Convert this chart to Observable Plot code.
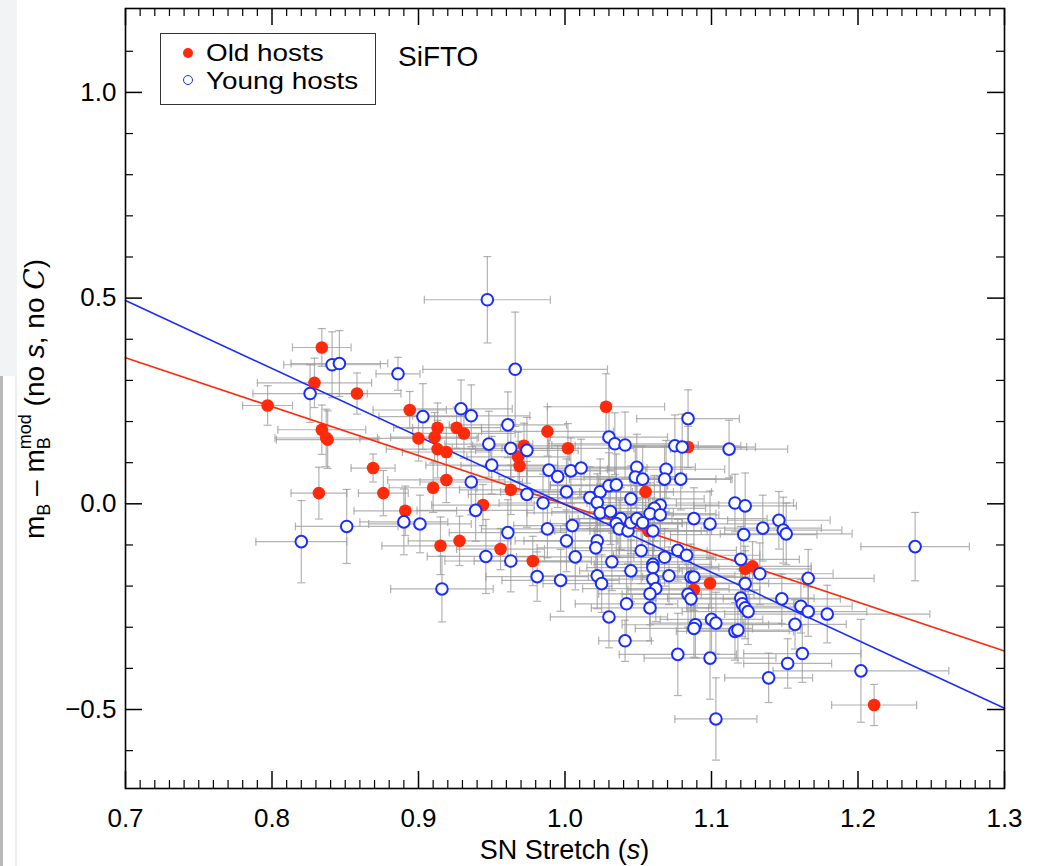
<!DOCTYPE html>
<html>
<head>
<meta charset="utf-8">
<script src="https://cdn.jsdelivr.net/npm/d3@7"></script>
<script src="https://cdn.jsdelivr.net/npm/@observablehq/plot@0.6"></script>
<style>
  html, body { margin: 0; padding: 0; background: #fff; }
  #wrap { position: relative; width: 1041px; height: 866px; font-family: "Liberation Sans", Arial, Helvetica, sans-serif; overflow: hidden; }
  #strip1 { position: absolute; left: 0; top: 0; width: 17px; height: 376px; background: #f2f3f5; }
  #strip2 { position: absolute; left: 0; top: 376px; width: 3px; height: 490px; background: #b8b8b8; }
  #strip3 { position: absolute; left: 15px; top: 376px; width: 2px; height: 490px; background: #eceef0; }
  .legend { position: absolute; left: 160px; top: 33px; width: 216px; height: 72px; border: 1.5px solid #333; box-sizing: border-box; background: #fff; }
  .leg-text { position: absolute; left: 45px; top: 5px; font-size: 24px; color: #000; line-height: 28px; white-space: nowrap; transform: scaleX(1.16); transform-origin: 0 0; }
  .sym { position: absolute; width: 10px; height: 10px; border-radius: 50%; box-sizing: border-box; }
  .title { position: absolute; left: 398px; top: 43px; font-size: 28px; line-height: 1; color: #000; }
</style>
</head>
<body>
<div id="wrap">
  <div id="strip1"></div><div id="strip2"></div><div id="strip3"></div>
  <div id="chart"></div>
  <div class="legend">
    <div class="sym" style="left:22px;top:14px;background:#ff2a0a;"></div>
    <div class="sym" style="left:22px;top:41px;border:1.6px solid #1a2dff;background:#fff;"></div>
    <div class="leg-text">Old hosts<br>Young hosts</div>
  </div>
  <div class="title">SiFTO</div>
</div>
<script>
// ---------- data ----------
const oldS = [0.834,0.829,0.858,0.797,0.894,0.834,0.837,0.838,0.913,0.926,
              0.931,0.900,0.911,0.913,0.919,0.869,0.919,0.910,0.832,0.876,
              0.944,0.891,0.915,0.928,0.956,1.028,0.988,0.972,0.968,0.969,
              1.002,1.084,0.963,1.055,1.057,0.978,1.088,1.099,1.123,1.128,1.211];
const oldM = [0.380,0.294,0.268,0.239,0.228,0.180,0.160,0.156,0.185,0.185,
              0.171,0.159,0.162,0.133,0.126,0.087,0.058,0.039,0.026,0.026,
              -0.003,-0.017,-0.102,-0.090,-0.110,0.236,0.176,0.141,0.114,0.092,
              0.135,0.138,0.034,0.029,-0.066,-0.139,-0.209,-0.193,-0.158,-0.152,-0.489];
const oldSErr = [0.020,0.039,0.030,0.017,0.025,0.030,0.035,0.035,0.030,0.030,
                 0.035,0.040,0.030,0.035,0.030,0.015,0.040,0.030,0.019,0.017,
                 0.035,0.035,0.040,0.035,0.030,0.040,0.045,0.035,0.035,0.040,
                 0.045,0.040,0.035,0.045,0.040,0.040,0.045,0.040,0.045,0.040,0.029];
const oldMErr = [0.046,0.060,0.050,0.048,0.045,0.060,0.070,0.070,0.060,0.050,
                 0.060,0.055,0.060,0.070,0.060,0.034,0.055,0.060,0.063,0.055,
                 0.050,0.060,0.070,0.060,0.050,0.080,0.060,0.055,0.060,0.060,
                 0.060,0.050,0.060,0.060,0.060,0.060,0.050,0.060,0.055,0.060,0.050];

const youngS = [0.947,0.841,0.846,0.886,0.826,0.903,0.929,0.936,0.948,0.950,
                0.936,0.939,0.890,0.901,0.851,0.820,0.946,0.916,0.966,0.961,
                1.084,1.030,1.034,1.041,0.963,0.974,1.075,1.080,1.112,0.989,
                0.995,1.004,1.011,1.049,1.048,1.053,1.069,1.068,1.079,0.974,
                0.985,1.001,1.017,1.024,1.022,1.030,1.035,1.045,1.065,1.061,
                1.058,1.065,1.024,1.031,1.038,1.035,1.037,1.043,1.045,1.049,
                1.053,1.060,1.088,1.099,1.116,1.123,1.122,1.005,0.988,0.961,
                1.001,1.022,1.021,1.052,1.077,1.083,1.068,1.120,0.963,1.007,
                1.032,1.060,1.045,1.060,1.060,1.062,1.058,1.058,1.071,0.981,
                0.997,1.022,1.025,1.042,1.030,1.041,1.077,1.099,1.103,1.086,
                1.088,1.084,1.086,1.089,1.088,1.100,1.103,1.123,1.120,1.121,
                1.123,1.125,1.116,1.118,1.133,1.135,1.146,1.149,1.151,1.239,
                1.166,1.148,1.161,1.166,1.179,1.157,1.162,1.152,1.139,1.202];
const youngM = [0.496,0.338,0.341,0.316,0.268,0.212,0.231,0.214,0.145,0.094,
                0.053,-0.016,-0.044,-0.049,-0.055,-0.092,-0.128,-0.207,0.327,0.192,
                0.207,0.162,0.146,0.143,0.135,0.130,0.141,0.138,0.133,0.082,
                0.066,0.080,0.087,0.089,0.065,0.060,0.084,0.060,0.060,0.023,
                0.002,0.029,0.015,0.029,0.003,0.044,0.046,0.012,-0.003,-0.011,
                -0.024,-0.027,-0.022,-0.019,-0.036,-0.048,-0.061,-0.066,-0.046,-0.036,
                -0.046,-0.066,-0.036,-0.049,0.002,-0.005,-0.075,-0.053,-0.061,-0.070,
                -0.090,-0.090,-0.107,-0.114,-0.113,-0.125,-0.130,-0.135,-0.139,-0.129,
                -0.141,-0.147,-0.163,-0.155,-0.183,-0.206,-0.219,-0.253,-0.175,-0.177,
                -0.186,-0.175,-0.194,-0.243,-0.275,-0.333,-0.366,-0.375,-0.523,-0.178,
                -0.178,-0.220,-0.231,-0.294,-0.303,-0.281,-0.290,-0.194,-0.229,-0.243,
                -0.253,-0.262,-0.310,-0.307,-0.170,-0.059,-0.040,-0.064,-0.073,-0.104,
                -0.181,-0.231,-0.249,-0.262,-0.268,-0.293,-0.364,-0.388,-0.423,-0.406];
const youngSErr = [0.043,0.033,0.033,0.015,0.039,0.030,0.035,0.040,0.030,0.045,
                   0.035,0.040,0.030,0.035,0.035,0.031,0.040,0.035,0.063,0.040,
                   0.035,0.040,0.045,0.050,0.040,0.035,0.045,0.050,0.040,0.035,
                   0.040,0.030,0.045,0.040,0.035,0.050,0.040,0.045,0.035,0.040,
                   0.030,0.045,0.040,0.050,0.035,0.040,0.045,0.050,0.040,0.035,
                   0.045,0.040,0.050,0.040,0.035,0.045,0.040,0.050,0.035,0.040,
                   0.045,0.040,0.050,0.045,0.040,0.035,0.050,0.040,0.045,0.040,
                   0.035,0.050,0.040,0.045,0.040,0.050,0.035,0.040,0.045,0.040,
                   0.050,0.040,0.035,0.045,0.040,0.050,0.035,0.040,0.045,0.035,
                   0.040,0.045,0.040,0.035,0.040,0.018,0.040,0.045,0.028,0.040,
                   0.035,0.045,0.040,0.050,0.040,0.035,0.045,0.040,0.050,0.035,
                   0.040,0.045,0.040,0.035,0.050,0.040,0.035,0.040,0.045,0.037,
                   0.045,0.040,0.035,0.040,0.070,0.035,0.040,0.030,0.030,0.060];
const youngMErr = [0.105,0.080,0.080,0.040,0.070,0.080,0.070,0.075,0.080,0.070,
                   0.080,0.075,0.080,0.070,0.090,0.100,0.090,0.080,0.139,0.080,
                   0.070,0.080,0.075,0.080,0.070,0.080,0.075,0.080,0.070,0.080,
                   0.075,0.080,0.070,0.080,0.075,0.080,0.070,0.080,0.075,0.080,
                   0.070,0.080,0.075,0.080,0.070,0.080,0.075,0.080,0.070,0.080,
                   0.075,0.080,0.070,0.080,0.075,0.080,0.070,0.080,0.075,0.080,
                   0.070,0.080,0.075,0.080,0.070,0.080,0.075,0.080,0.070,0.080,
                   0.075,0.080,0.070,0.080,0.075,0.080,0.070,0.080,0.075,0.080,
                   0.070,0.080,0.075,0.080,0.070,0.080,0.075,0.080,0.070,0.060,
                   0.075,0.080,0.070,0.080,0.075,0.050,0.100,0.100,0.100,0.080,
                   0.070,0.080,0.075,0.080,0.070,0.080,0.075,0.080,0.070,0.080,
                   0.075,0.080,0.070,0.080,0.075,0.080,0.070,0.080,0.075,0.083,
                   0.070,0.060,0.065,0.060,0.070,0.060,0.070,0.060,0.060,0.125];

// fitted lines: endpoints read at the plot edges
const fitS = [0.7, 1.3];
const fitYoungM = [0.494, -0.497];
const fitOldM = [0.355, -0.358];

// axes
const xMajor = [0.7, 0.8, 0.9, 1.0, 1.1, 1.2, 1.3];
const xMinor = [0.71,0.72,0.73,0.74,0.75,0.76,0.77,0.78,0.79,0.81,0.82,0.83,0.84,0.85,0.86,0.87,0.88,0.89,
                0.91,0.92,0.93,0.94,0.95,0.96,0.97,0.98,0.99,1.01,1.02,1.03,1.04,1.05,1.06,1.07,1.08,1.09,
                1.11,1.12,1.13,1.14,1.15,1.16,1.17,1.18,1.19,1.21,1.22,1.23,1.24,1.25,1.26,1.27,1.28,1.29];
const yMajor = [-0.5, 0.0, 0.5, 1.0];
const yMinor = [-0.6,-0.4,-0.3,-0.2,-0.1,0.1,0.2,0.3,0.4,0.6,0.7,0.8,0.9,1.1];
const xDomain = [0.7, 1.3];
const yDomain = [-0.692, 1.204];

// ---------- build ----------
const RED = "#ff2a0a", BLUE = "#1a2dff", ERR = "#9a9a9a";
const W = 1041, H = 866, mL = 125, mR = 37, mT = 8, mB = 78;
const iw = W - mL - mR, ih = H - mT - mB;
const majLen = 17, minLen = 8;

const oldData = oldS.map((s, i) => ({s, m: oldM[i], se: oldSErr[i], me: oldMErr[i]}));
const youngData = youngS.map((s, i) => ({s, m: youngM[i], se: youngSErr[i], me: youngMErr[i]}));
const allData = oldData.concat(youngData);
const fitYoung = fitS.map((s, i) => ({s, m: fitYoungM[i]}));
const fitOld = fitS.map((s, i) => ({s, m: fitOldM[i]}));

const vcap = {draw(ctx, size) { const r = Math.sqrt(size / Math.PI); ctx.moveTo(0, -r); ctx.lineTo(0, r); }};
const hcap = {draw(ctx, size) { const r = Math.sqrt(size / Math.PI); ctx.moveTo(-r, 0); ctx.lineTo(r, 0); }};
const errStyle = {stroke: ERR, strokeOpacity: 0.75, strokeWidth: 1.2};

const chart = Plot.plot({
  width: W, height: H,
  marginLeft: mL, marginRight: mR, marginTop: mT, marginBottom: mB,
  style: {fontFamily: '"Liberation Sans", Arial, Helvetica, sans-serif', fontSize: "26px", color: "#000", background: "transparent"},
  x: {domain: xDomain},
  y: {domain: yDomain},
  marks: [
    // error bars
    Plot.ruleY(allData, {y: "m", x1: d => d.s - d.se, x2: d => d.s + d.se, ...errStyle}),
    Plot.ruleX(allData, {x: "s", y1: d => d.m - d.me, y2: d => d.m + d.me, ...errStyle}),
    Plot.dot(allData, {x: d => d.s - d.se, y: "m", symbol: vcap, r: 4, ...errStyle}),
    Plot.dot(allData, {x: d => d.s + d.se, y: "m", symbol: vcap, r: 4, ...errStyle}),
    Plot.dot(allData, {x: "s", y: d => d.m - d.me, symbol: hcap, r: 4, ...errStyle}),
    Plot.dot(allData, {x: "s", y: d => d.m + d.me, symbol: hcap, r: 4, ...errStyle}),
    // fits
    Plot.line(fitOld, {x: "s", y: "m", stroke: RED, strokeWidth: 1.6}),
    Plot.line(fitYoung, {x: "s", y: "m", stroke: BLUE, strokeWidth: 1.6}),
    // points
    Plot.dot(oldData, {x: "s", y: "m", r: 6.3, fill: RED, stroke: "none"}),
    Plot.dot(youngData, {x: "s", y: "m", r: 5.8, fill: "#fff", stroke: BLUE, strokeWidth: 2}),
    // inward ticks, all four sides
    Plot.ruleX(xMajor, {x: d => d, insetTop: ih - majLen, stroke: "#000", strokeWidth: 1.5}),
    Plot.ruleX(xMajor, {x: d => d, insetBottom: ih - majLen, stroke: "#000", strokeWidth: 1.5}),
    Plot.ruleX(xMinor, {x: d => d, insetTop: ih - minLen, stroke: "#000", strokeWidth: 1.2}),
    Plot.ruleX(xMinor, {x: d => d, insetBottom: ih - minLen, stroke: "#000", strokeWidth: 1.2}),
    Plot.ruleY(yMajor, {y: d => d, insetRight: iw - majLen, stroke: "#000", strokeWidth: 1.5}),
    Plot.ruleY(yMajor, {y: d => d, insetLeft: iw - majLen, stroke: "#000", strokeWidth: 1.5}),
    Plot.ruleY(yMinor, {y: d => d, insetRight: iw - minLen, stroke: "#000", strokeWidth: 1.2}),
    Plot.ruleY(yMinor, {y: d => d, insetLeft: iw - minLen, stroke: "#000", strokeWidth: 1.2}),
    Plot.frame({stroke: "#000", strokeWidth: 1.6}),
    // tick labels
    Plot.axisX(xMajor, {anchor: "bottom", tickSize: 0, tickPadding: 20, tickFormat: d3.format(".1f"), label: null, fontSize: 26}),
    Plot.axisY(yMajor, {anchor: "left", tickSize: 0, tickPadding: 9, tickFormat: d3.format(".1f"), label: null, fontSize: 26})
  ]
});
document.getElementById("chart").appendChild(chart);

// axis titles with sub/superscripts
const svg = d3.select(chart);
const xt = svg.append("text")
  .attr("x", mL + iw / 2).attr("y", 859)
  .attr("text-anchor", "middle").attr("font-size", 27).attr("fill", "#000");
xt.append("tspan").text("SN Stretch (");
xt.append("tspan").attr("font-style", "italic").text("s");
xt.append("tspan").text(")");

const yt = svg.append("text")
  .attr("transform", "translate(44,399) rotate(-90)")
  .attr("text-anchor", "middle").attr("font-size", 28).attr("fill", "#000");
yt.append("tspan").text("m");
yt.append("tspan").attr("font-size", 18).attr("dy", 6).text("B");
yt.append("tspan").attr("dy", -6).text(" \u2013 m");
yt.append("tspan").attr("font-size", 18).attr("dy", 6).text("B");
yt.append("tspan").attr("font-size", 18).attr("dx", -12).attr("dy", -19).text("mod");
yt.append("tspan").attr("dy", 13).text(" (no ");
yt.append("tspan").attr("font-style", "italic").text("s");
yt.append("tspan").text(", no ");
yt.append("tspan").attr("font-style", "italic").attr("font-family", "'DejaVu Serif', serif").text("C");
yt.append("tspan").text(")");
</script>
</body>
</html>
